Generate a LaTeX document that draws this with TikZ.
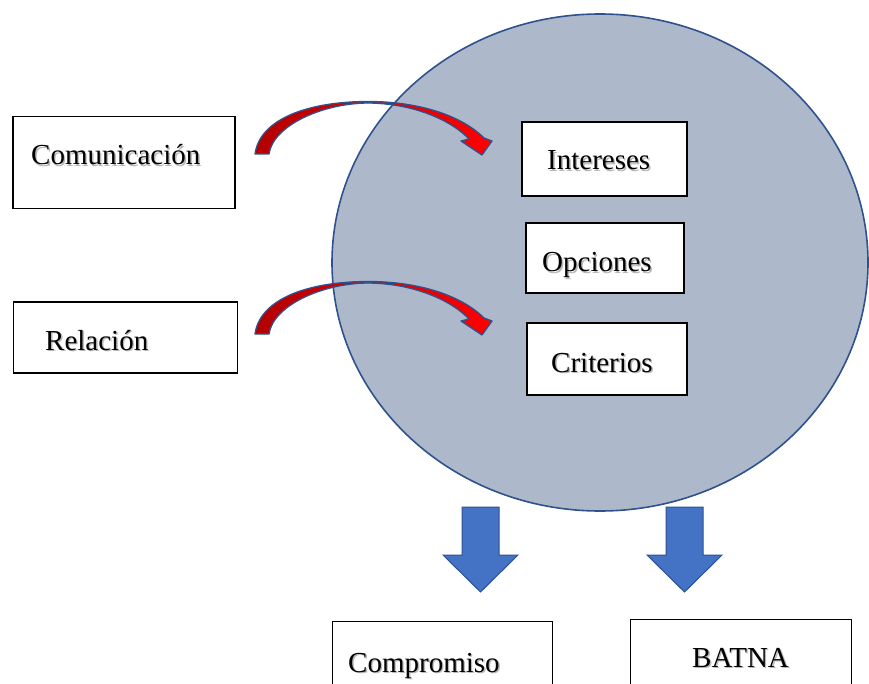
\documentclass[tikz,border=0pt]{standalone}
\usepackage{fontspec}
\setmainfont{Liberation Serif}
\usetikzlibrary{shapes.geometric,calc}

\definecolor{diskfill}{HTML}{ADB9CA}
\definecolor{edgeblue}{HTML}{2F528F}
\definecolor{blockblue}{HTML}{4472C4}

\tikzset{
  box/.style={draw=black, line width=1.3pt, fill=white, inner sep=0pt},
  lbl/.style={inner sep=0pt, anchor=base west, font=\fontsize{29}{34}\selectfont},
  shade/.style={lbl, text=black!28},
  disk/.style={ellipse, draw=edgeblue, line width=1.6pt, fill=diskfill, inner sep=0pt},
  % curved red arrow, origin at the outer foot of its tail
  bendarrow/.pic={
    \draw[edgeblue, line width=1.3pt, line join=round,
          left color=red!70!black, right color=red]
      (14,0) .. controls (18,-28) and (66,-50.5) .. (113,-51)
      .. controls (160,-50.5) and (197,-33) .. (214,-15)
      -- (206,-13) -- (227,1) -- (237,-13) -- (229,-16)
      .. controls (207,-38) and (165,-52.5) .. (113,-52.5)
      .. controls (55,-52.5) and (5,-36) .. (0,0) -- cycle;
  },
  % thick blue down arrow, origin at the middle of its top edge
  downarrow/.pic={
    \draw[edgeblue, line width=1pt, fill=blockblue, line join=miter]
      (-18.5,0) -- (18.5,0) -- (18.5,48) -- (37.5,48) -- (0,85)
      -- (-37.5,48) -- (-18.5,48) -- cycle;
  }
}

% text with a soft offset shadow
\newcommand{\boxlabel}[2]{%
  \node[shade] at ($#1+(1.4,1.4)$) {#2};
  \node[lbl] at #1 {#2};
}

\begin{document}
\begin{tikzpicture}[x=1pt, y=-1pt]
  \clip (0,0) rectangle (869,684);
  \fill[white] (0,0) rectangle (869,684);

  % large disk holding the three criteria
  \node[disk, minimum width=536, minimum height=497] (disk) at (600,262.5) {};

  % left-hand boxes
  \node[box, minimum width=222, minimum height=92] (com) at (124,162.5) {};
  \boxlabel{(31,165)}{Comunicación}
  \node[box, minimum width=224, minimum height=71] (rel) at (125.5,337.5) {};
  \boxlabel{(45,350)}{Relación}

  % boxes inside the disk
  \node[box, minimum width=165, minimum height=74] (int) at (604.5,159) {};
  \boxlabel{(547,170)}{Intereses}
  \node[box, minimum width=158, minimum height=70] (opc) at (605,258) {};
  \boxlabel{(542,272)}{Opciones}
  \node[box, minimum width=160, minimum height=72] (cri) at (607,359) {};
  \boxlabel{(551,372)}{Criterios}

  % bottom boxes, running past the lower edge
  \node[box, anchor=north west, minimum width=220, minimum height=90] (comp) at (332,621) {};
  \boxlabel{(348,672)}{Compromiso}
  \node[box, anchor=north west, minimum width=221, minimum height=90] (batna) at (630,619) {};
  \boxlabel{(692,667)}{BATNA}

  % curved arrows into the disk
  \coordinate (a1) at (255,154);
  \coordinate (a2) at (255,334);
  \pic at (a1) {bendarrow};
  \pic at (a2) {bendarrow};

  % down arrows towards the outcomes
  \coordinate (d1) at (480.5,507);
  \coordinate (d2) at (684.5,507);
  \pic at (d1) {downarrow};
  \pic at (d2) {downarrow};
\end{tikzpicture}
\end{document}
